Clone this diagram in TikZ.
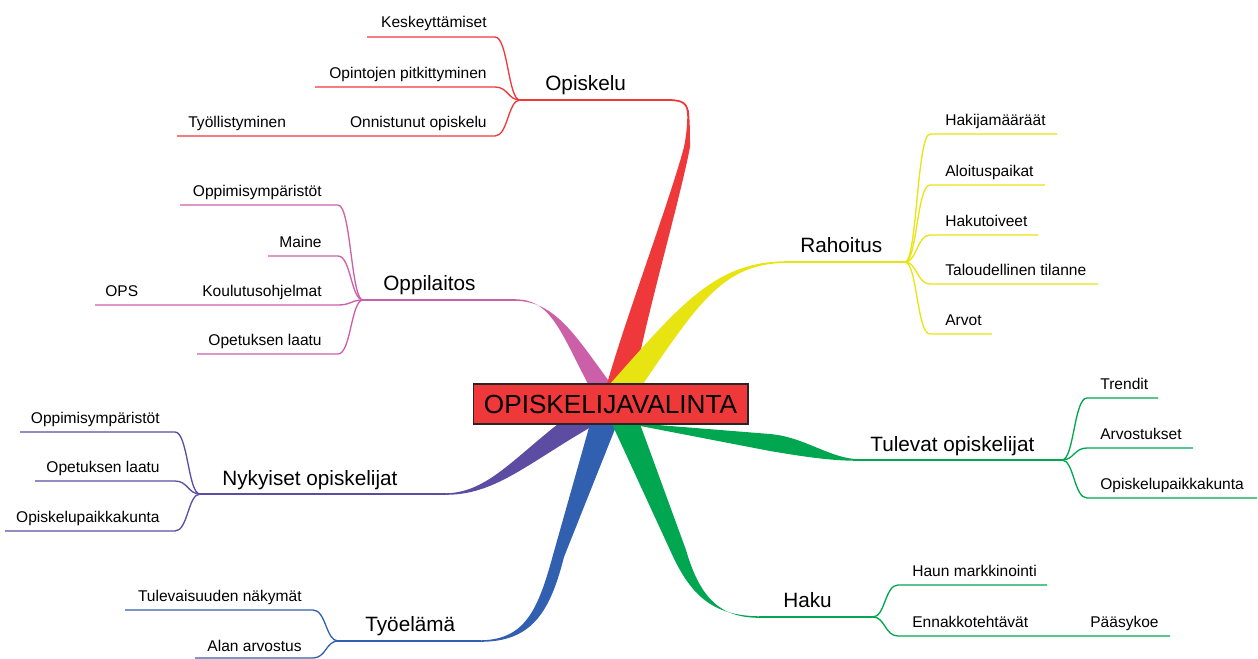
\documentclass[tikz,border=0pt]{standalone}
\usepackage{fontspec}
\setmainfont{Liberation Sans}
\definecolor{cred}{RGB}{238,56,58}
\definecolor{cyel}{RGB}{232,228,18}
\definecolor{cpink}{RGB}{204,96,168}
\definecolor{cpur}{RGB}{92,76,162}
\definecolor{cblue}{RGB}{50,96,176}
\definecolor{cgreen}{RGB}{0,166,80}
% left sub-branch: colour, split x, split y, underline y, underline start x
\newcommand\Lsub[5]{\draw[sub,#1] (#2,#3) .. controls (#2-12,#3) and (#2-12,#4) .. (#2-25,#4) -- (#5,#4);}
% right sub-branch: colour, split x, split y, underline y, underline end x
\newcommand\Rsub[5]{\draw[sub,#1] (#2,#3) .. controls (#2+12,#3) and (#2+12,#4) .. (#2+25,#4) -- (#5,#4);}
\begin{document}
\begin{tikzpicture}[x=0.02cm,y=-0.02cm,
  sub/.style={line width=0.75pt},
  mainline/.style={line width=1pt},
  leaf/.style={font=\fontsize{8.85}{10}\selectfont, inner sep=0pt},
  topic/.style={font=\fontsize{11.8}{14}\selectfont, inner sep=0pt},
  rootbox/.style={draw=black!85, line width=0.6pt, fill=cred, inner sep=0pt,
    minimum width=5.5cm, minimum height=0.8cm, font=\fontsize{14.9}{17}\selectfont}]
\useasboundingbox (0,0) rectangle (1258,659);

% split points
\coordinate (sOpiskelu) at (520,100);
\coordinate (sOppilaitos) at (363,300);
\coordinate (sNykyiset) at (200,494);
\coordinate (sTyo) at (338,641);
\coordinate (sRahoitus) at (905,262);
\coordinate (sTulevat) at (1062,460);
\coordinate (sHaku) at (873,617);

% ---------- thick branches ----------
% Oppilaitos (pink)
\fill[cpink] (588,384) .. controls (560,330) and (550,299) .. (515,299.3)
  -- (515,300.8) .. controls (555,301) and (575,335) .. (611,384) -- cycle;
\draw[cpink,mainline] (sOppilaitos) -- (516,300);
% Opiskelu (red)
\fill[cred] (607,384) .. controls (625,320) and (670,200) .. (684,147)
  .. controls (687,132) and (687.5,120) .. (687.3,110) -- (688.7,110)
  .. controls (690,122) and (690,135) .. (690,147)
  .. controls (680,200) and (645,320) .. (634,384) -- cycle;
\draw[cred,mainline] (sOpiskelu) -- (668,100) .. controls (684,100) and (688,104) .. (688,116);
% Rahoitus (yellow)
\fill[cyel] (610,384) .. controls (680,305) and (715,262) .. (785,261.3)
  -- (785,262.9) .. controls (725,264) and (700,300) .. (643,384) -- cycle;
\draw[cyel,mainline] (784,262) -- (sRahoitus);
% Nykyiset opiskelijat (purple)
\fill[cpur] (558,424) .. controls (510,462) and (485,493) .. (445,493.3)
  -- (445,494.8) .. controls (495,495) and (525,465) .. (596,424) -- cycle;
\draw[cpur,mainline] (sNykyiset) -- (446,494);
% Tyoelama (blue)
\fill[cblue] (590,424) -- (553,555) .. controls (538,610) and (525,640) .. (480,640.3)
  -- (480,641.8) .. controls (532,642) and (550,612) .. (564,557) -- (617,424) -- cycle;
\draw[cblue,mainline] (sTyo) -- (481,641);
% Haku (green)
\fill[cgreen] (612,424) -- (670,550) .. controls (690,595) and (712,616) .. (760,616.3)
  -- (760,617.8) .. controls (720,618) and (700,598) .. (686,550) -- (640,424) -- cycle;
\draw[cgreen,mainline] (759,617) -- (sHaku);
% Tulevat opiskelijat (green)
\fill[cgreen] (645,424) -- (770,434) .. controls (805,437) and (830,459) .. (860,459.3)
  -- (860,460.8) .. controls (830,461) and (800,456) .. (770,451) -- (630,424) -- cycle;
\draw[cgreen,mainline] (859,460) -- (sTulevat);

% ---------- root ----------
\node[rootbox] (root) at (610.5,404) {OPISKELIJAVALINTA};

% ---------- Opiskelu ----------
\node[topic, anchor=base west] (tOpiskelu) at (545,90) {Opiskelu};
\Lsub{cred}{520}{100}{37}{367}
\Lsub{cred}{520}{100}{87}{315}
\Lsub{cred}{520}{100}{136}{177}
\node[leaf, anchor=base east] (l1) at (487,28) {Keskeyttämiset};
\node[leaf, anchor=base east] (l2) at (487,78) {Opintojen pitkittyminen};
\node[leaf, anchor=base east] (l3) at (487,127) {Onnistunut opiskelu};
\node[leaf, anchor=base west] (l4) at (188,127) {Työllistyminen};

% ---------- Oppilaitos ----------
\node[topic, anchor=base west] (tOppilaitos) at (383,290) {Oppilaitos};
\Lsub{cpink}{363}{300}{205}{180}
\Lsub{cpink}{363}{300}{256}{268}
\Lsub{cpink}{363}{300}{305}{95}
\Lsub{cpink}{363}{300}{354}{197}
\node[leaf, anchor=base east] (l5) at (322,196) {Oppimisympäristöt};
\node[leaf, anchor=base east] (l6) at (322,247) {Maine};
\node[leaf, anchor=base east] (l7) at (322,296) {Koulutusohjelmat};
\node[leaf, anchor=base west] (l8) at (105,296) {OPS};
\node[leaf, anchor=base east] (l9) at (322,345) {Opetuksen laatu};

% ---------- Nykyiset opiskelijat ----------
\node[topic, anchor=base west] (tNykyiset) at (222,485) {Nykyiset opiskelijat};
\Lsub{cpur}{200}{494}{432}{20}
\Lsub{cpur}{200}{494}{481}{35}
\Lsub{cpur}{200}{494}{531}{5}
\node[leaf, anchor=base east] (l10) at (160,423) {Oppimisympäristöt};
\node[leaf, anchor=base east] (l11) at (160,472) {Opetuksen laatu};
\node[leaf, anchor=base east] (l12) at (160,522) {Opiskelupaikkakunta};

% ---------- Tyoelama ----------
\node[topic, anchor=base west] (tTyo) at (365,631) {Työelämä};
\Lsub{cblue}{338}{641}{610}{125}
\Lsub{cblue}{338}{641}{658}{195}
\node[leaf, anchor=base east] (l13) at (302,601) {Tulevaisuuden näkymät};
\node[leaf, anchor=base east] (l14) at (302,651) {Alan arvostus};

% ---------- Rahoitus ----------
\node[topic, anchor=base west] (tRahoitus) at (800,252) {Rahoitus};
\Rsub{cyel}{905}{262}{134}{1057}
\Rsub{cyel}{905}{262}{185}{1045}
\Rsub{cyel}{905}{262}{235}{1038}
\Rsub{cyel}{905}{262}{284}{1098}
\Rsub{cyel}{905}{262}{334}{992}
\node[leaf, anchor=base west] (l15) at (945,125) {Hakijamääräät};
\node[leaf, anchor=base west] (l16) at (945,176) {Aloituspaikat};
\node[leaf, anchor=base west] (l17) at (945,226) {Hakutoiveet};
\node[leaf, anchor=base west] (l18) at (945,275) {Taloudellinen tilanne};
\node[leaf, anchor=base west] (l19) at (945,325) {Arvot};

% ---------- Tulevat opiskelijat ----------
\node[topic, anchor=base west] (tTulevat) at (870,451) {Tulevat opiskelijat};
\Rsub{cgreen}{1062}{460}{398}{1158}
\Rsub{cgreen}{1062}{460}{448}{1193}
\Rsub{cgreen}{1062}{460}{498}{1257}
\node[leaf, anchor=base west] (l20) at (1100,389) {Trendit};
\node[leaf, anchor=base west] (l21) at (1100,439) {Arvostukset};
\node[leaf, anchor=base west] (l22) at (1100,489) {Opiskelupaikkakunta};

% ---------- Haku ----------
\node[topic, anchor=base west] (tHaku) at (783,607) {Haku};
\Rsub{cgreen}{873}{617}{585}{1047}
\Rsub{cgreen}{873}{617}{636}{1170}
\node[leaf, anchor=base west] (l23) at (912,576) {Haun markkinointi};
\node[leaf, anchor=base west] (l24) at (912,627) {Ennakkotehtävät};
\node[leaf, anchor=base west] (l25) at (1090,627) {Pääsykoe};
\end{tikzpicture}
\end{document}
